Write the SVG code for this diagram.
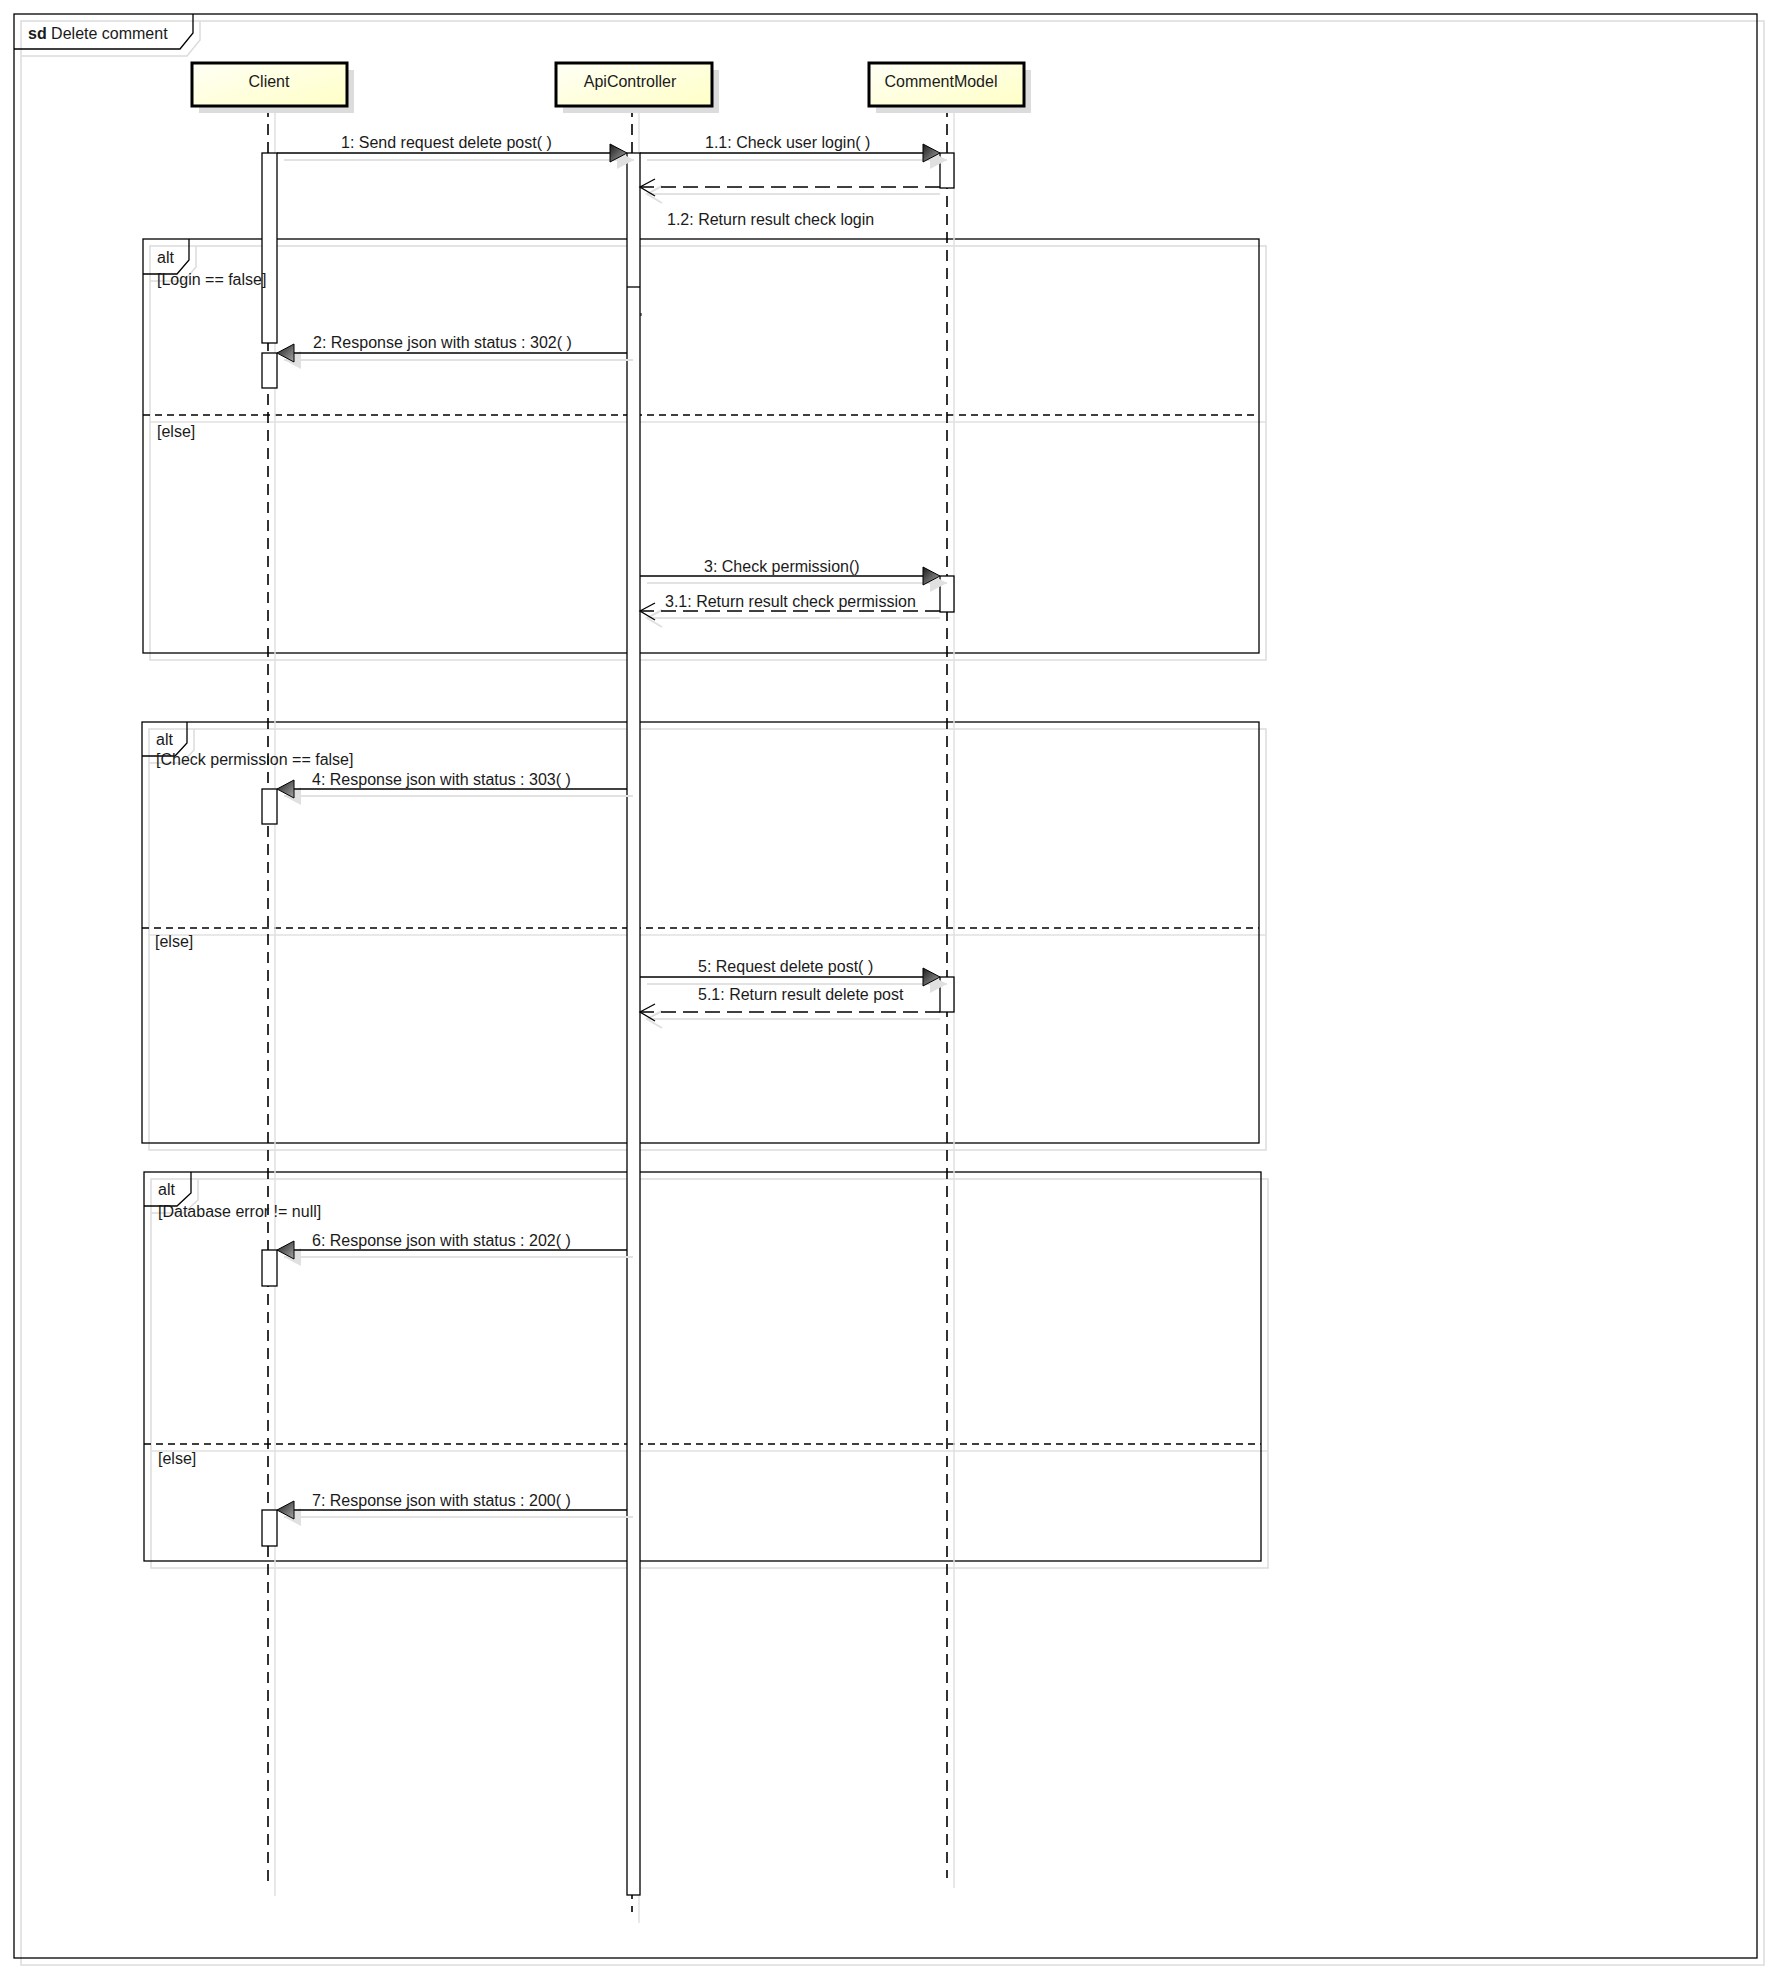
<svg xmlns="http://www.w3.org/2000/svg" width="1771" height="1972" viewBox="0 0 1771 1972">
<defs>
<linearGradient id="headFill" x1="0" y1="0" x2="1" y2="1">
<stop offset="0" stop-color="#fffff6"/>
<stop offset="1" stop-color="#ffffc6"/>
</linearGradient>
<linearGradient id="arrFill" x1="0" y1="0" x2="1" y2="1">
<stop offset="0" stop-color="#1a1a1a"/>
<stop offset="1" stop-color="#a8a8a8"/>
</linearGradient>
<style>
text{font-family:"Liberation Sans",Arial,sans-serif;font-size:16px;fill:#1a1a1a}
.frame{fill:none;stroke:#000;stroke-width:1.3}
.fshadow{fill:none;stroke:#dcdcdc;stroke-width:1.5}
.sep{stroke:#000;stroke-width:1.3;stroke-dasharray:7,5}
.sepsh{stroke:#e0e0e0;stroke-width:1.5}
.life{stroke:#000;stroke-width:1.6;stroke-dasharray:11,7}
.lifesh{stroke:#e0e0e0;stroke-width:1.5}
.head{fill:url(#headFill);stroke:#000;stroke-width:3}
.headsh{fill:#dcdcdc;stroke:none}
.bar{fill:#fff;stroke:#000;stroke-width:1.3}
.msg{stroke:#000;stroke-width:1.4;fill:none}
.ret{stroke:#000;stroke-width:1.4;fill:none;stroke-dasharray:15,7}
.msh{stroke:#e2e2e2;stroke-width:2;fill:none}
.arr{fill:url(#arrFill);stroke:#000;stroke-width:1}
.arrsh{fill:#e0e0e0;stroke:none}
.open{fill:none;stroke:#000;stroke-width:1.3}
.opensh{fill:none;stroke:#e0e0e0;stroke-width:2}
.mid{text-anchor:middle}
</style>
</defs>
<rect width="1771" height="1972" fill="#fff"/>

<g id="sd-frame">
<rect class="fshadow" x="21" y="21" width="1743" height="1944"/>
<path class="fshadow" d="M21,56 H187 L200,40 V21"/>
<rect class="frame" x="14" y="14" width="1743" height="1944"/>
<path class="frame" d="M14,49 H180 L193,33 V14" fill="#fff"/>
<text x="28" y="39"><tspan font-weight="bold">sd</tspan> Delete comment</text>
</g>

<g id="alt1">
<rect class="fshadow" x="150" y="246" width="1116" height="414"/>
<path class="fshadow" d="M150,281 H184 L196,267 V246"/>
<line class="sepsh" x1="150" y1="422" x2="1266" y2="422"/>
<rect class="frame" x="143" y="239" width="1116" height="414"/>
<path class="frame" d="M143,274 H177 L189,260 V239"/>
<line class="sep" x1="143" y1="415" x2="1259" y2="415"/>
</g>

<g id="alt2">
<rect class="fshadow" x="149" y="729" width="1117" height="421"/>
<path class="fshadow" d="M149,763 H182 L194,750 V729"/>
<line class="sepsh" x1="149" y1="935" x2="1266" y2="935"/>
<rect class="frame" x="142" y="722" width="1117" height="421"/>
<path class="frame" d="M142,756 H175 L187,743 V722"/>
<line class="sep" x1="142" y1="928" x2="1259" y2="928"/>
</g>

<g id="alt3">
<rect class="fshadow" x="151" y="1179" width="1117" height="389"/>
<path class="fshadow" d="M151,1213 H184 L198,1200 V1179"/>
<line class="sepsh" x1="151" y1="1451" x2="1268" y2="1451"/>
<rect class="frame" x="144" y="1172" width="1117" height="389"/>
<path class="frame" d="M144,1206 H177 L191,1193 V1172"/>
<line class="sep" x1="144" y1="1444" x2="1261" y2="1444"/>
</g>

<g id="Client">
<line class="lifesh" x1="275" y1="113" x2="275" y2="1896"/>
<line class="life" x1="268" y1="106" x2="268" y2="1887"/>
<rect class="headsh" x="199" y="70" width="155" height="43"/>
<rect class="head" x="192" y="63" width="155" height="43"/>
<text class="mid" x="269" y="87">Client</text>
<rect class="bar" x="262" y="153" width="15" height="190"/>
<rect class="bar" x="262" y="353" width="15" height="35"/>
<rect class="bar" x="262" y="789" width="15" height="35"/>
<rect class="bar" x="262" y="1250" width="15" height="36"/>
<rect class="bar" x="262" y="1510" width="15" height="36"/>
</g>

<g id="ApiController">
<line class="lifesh" x1="639" y1="113" x2="639" y2="1923"/>
<line class="life" x1="632" y1="106" x2="632" y2="1912"/>
<rect class="headsh" x="563" y="70" width="156" height="43"/>
<rect class="head" x="556" y="63" width="156" height="43"/>
<text class="mid" x="630" y="87">ApiController</text>
<rect class="bar" x="627" y="153" width="13" height="1742"/>
<line stroke="#000" stroke-width="1.3" x1="627" y1="287" x2="640" y2="287"/>
<line stroke="#000" stroke-width="1" x1="641" y1="313" x2="641" y2="316"/>
</g>

<g id="CommentModel">
<line class="lifesh" x1="954" y1="113" x2="954" y2="1888"/>
<line class="life" x1="947" y1="106" x2="947" y2="1878"/>
<rect class="headsh" x="876" y="70" width="155" height="43"/>
<rect class="head" x="869" y="63" width="155" height="43"/>
<text class="mid" x="941" y="87">CommentModel</text>
<rect class="bar" x="940" y="153" width="14" height="35"/>
<rect class="bar" x="940" y="576" width="14" height="36"/>
<rect class="bar" x="940" y="977" width="14" height="35"/>
</g>

<g id="frame-labels">
<text x="157" y="263">alt</text>
<text x="157" y="285">[Login == false]</text>
<text x="157" y="437">[else]</text>
<text x="156" y="745">alt</text>
<text x="156" y="765">[Check permission == false]</text>
<text x="155" y="947">[else]</text>
<text x="158" y="1195">alt</text>
<text x="158" y="1217">[Database error != null]</text>
<text x="158" y="1464">[else]</text>
</g>

<g id="connectors">
<!-- 1 -->
<line class="msh" x1="284" y1="160" x2="634" y2="160"/>
<polygon class="arrsh" points="617,151 634,160 617,169"/>
<line class="msg" x1="277" y1="153" x2="612" y2="153"/>
<polygon class="arr" points="610,144 627,153 610,162"/>
<text x="341" y="148">1: Send request delete post( )</text>
<!-- 1.1 -->
<line class="msh" x1="647" y1="160" x2="947" y2="160"/>
<polygon class="arrsh" points="930,151 947,160 930,169"/>
<line class="msg" x1="640" y1="153" x2="925" y2="153"/>
<polygon class="arr" points="923,144 940,153 923,162"/>
<text x="705" y="148">1.1: Check user login( )</text>
<!-- 1.2 -->
<line class="msh" x1="647" y1="194" x2="940" y2="194"/>
<polyline class="opensh" points="662,186 647,194 662,203"/>
<line class="ret" x1="940" y1="187" x2="641" y2="187"/>
<polyline class="open" points="655,179 640,187 655,196"/>
<text x="667" y="225">1.2: Return result check login</text>
<!-- 2 -->
<line class="msh" x1="284" y1="360" x2="633" y2="360"/>
<polygon class="arrsh" points="301,351 284,360 301,369"/>
<line class="msg" x1="292" y1="353" x2="627" y2="353"/>
<polygon class="arr" points="294,344 277,353 294,362"/>
<text x="313" y="348">2: Response json with status : 302( )</text>
<!-- 3 -->
<line class="msh" x1="647" y1="583" x2="947" y2="583"/>
<polygon class="arrsh" points="930,574 947,583 930,592"/>
<line class="msg" x1="640" y1="576" x2="925" y2="576"/>
<polygon class="arr" points="923,567 940,576 923,585"/>
<text x="704" y="572">3: Check permission()</text>
<!-- 3.1 -->
<line class="msh" x1="647" y1="618" x2="940" y2="618"/>
<polyline class="opensh" points="662,610 647,618 662,627"/>
<line class="ret" x1="940" y1="611" x2="641" y2="611"/>
<polyline class="open" points="655,603 640,611 655,620"/>
<text x="665" y="607">3.1: Return result check permission</text>
<!-- 4 -->
<line class="msh" x1="284" y1="796" x2="633" y2="796"/>
<polygon class="arrsh" points="301,787 284,796 301,805"/>
<line class="msg" x1="292" y1="789" x2="627" y2="789"/>
<polygon class="arr" points="294,780 277,789 294,798"/>
<text x="312" y="785">4: Response json with status : 303( )</text>
<!-- 5 -->
<line class="msh" x1="647" y1="984" x2="947" y2="984"/>
<polygon class="arrsh" points="930,975 947,984 930,993"/>
<line class="msg" x1="640" y1="977" x2="925" y2="977"/>
<polygon class="arr" points="923,968 940,977 923,986"/>
<text x="698" y="972">5: Request delete post( )</text>
<!-- 5.1 -->
<line class="msh" x1="647" y1="1019" x2="940" y2="1019"/>
<polyline class="opensh" points="662,1011 647,1019 662,1028"/>
<line class="ret" x1="940" y1="1012" x2="641" y2="1012"/>
<polyline class="open" points="655,1004 640,1012 655,1021"/>
<text x="698" y="1000">5.1: Return result delete post</text>
<!-- 6 -->
<line class="msh" x1="284" y1="1257" x2="633" y2="1257"/>
<polygon class="arrsh" points="301,1248 284,1257 301,1266"/>
<line class="msg" x1="292" y1="1250" x2="627" y2="1250"/>
<polygon class="arr" points="294,1241 277,1250 294,1259"/>
<text x="312" y="1246">6: Response json with status : 202( )</text>
<!-- 7 -->
<line class="msh" x1="284" y1="1517" x2="633" y2="1517"/>
<polygon class="arrsh" points="301,1508 284,1517 301,1526"/>
<line class="msg" x1="292" y1="1510" x2="627" y2="1510"/>
<polygon class="arr" points="294,1501 277,1510 294,1519"/>
<text x="312" y="1506">7: Response json with status : 200( )</text>
</g>
</svg>
